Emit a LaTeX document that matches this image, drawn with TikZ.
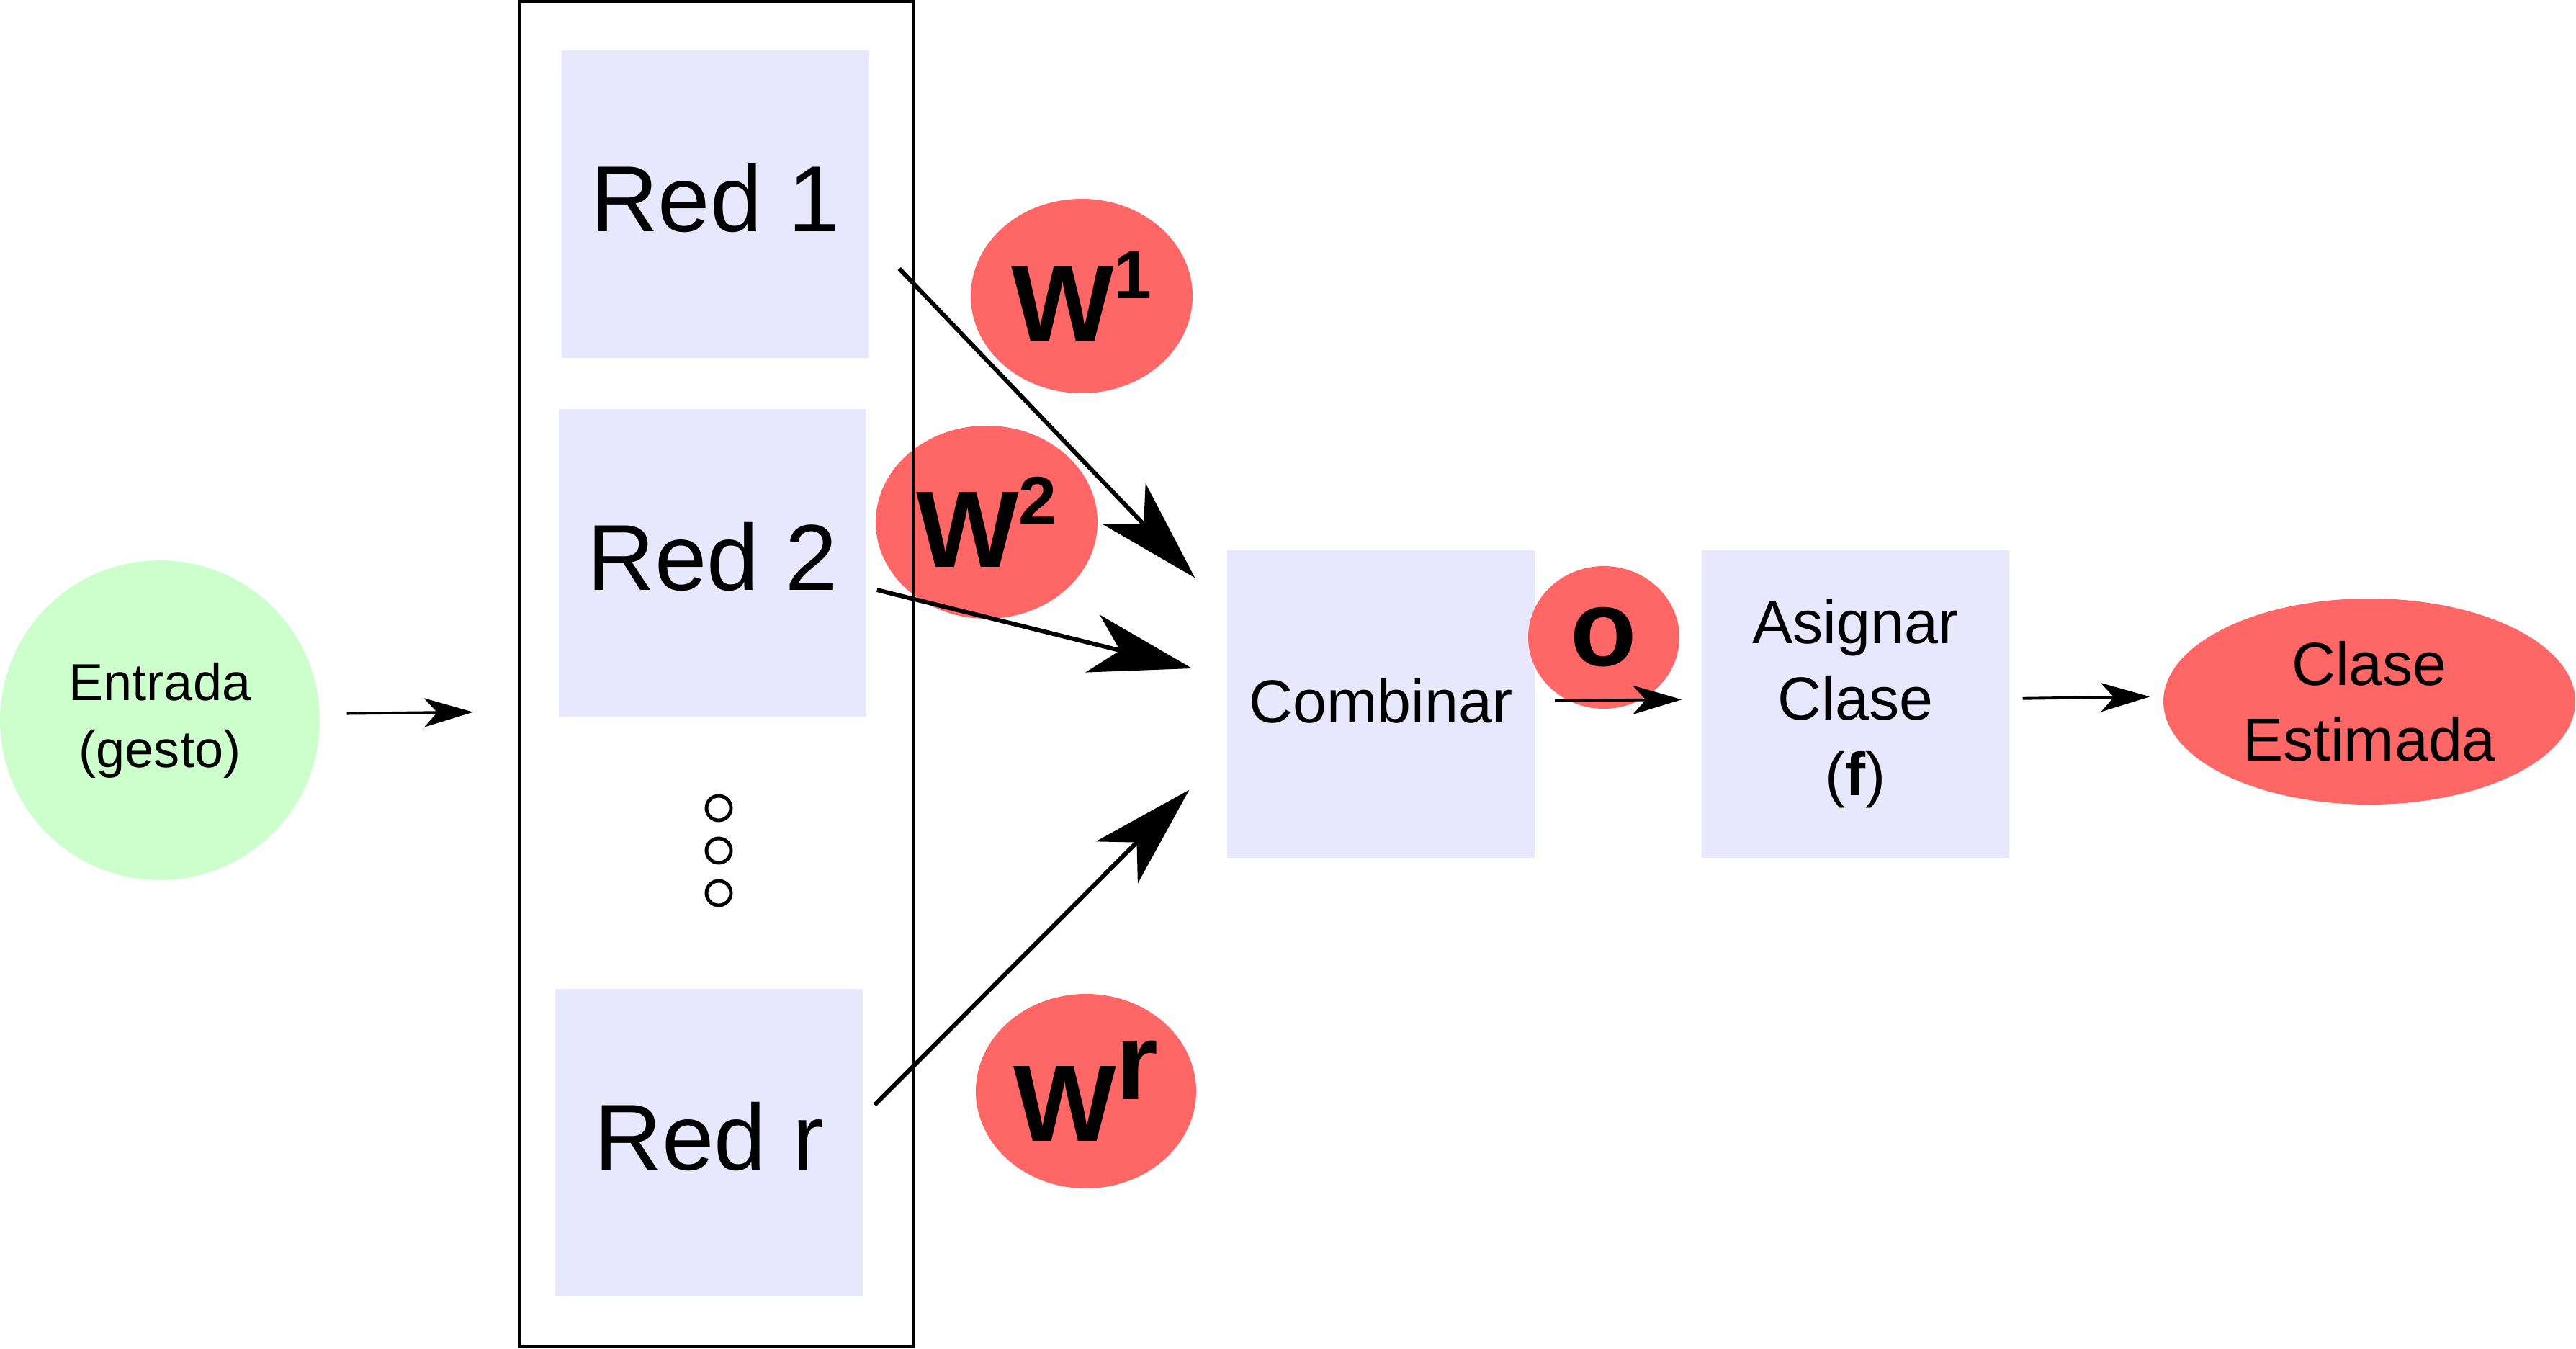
\documentclass[tikz,border=0pt]{standalone}
\usepackage{fontspec}
\setmainfont{Liberation Sans}
\usepackage{xcolor}
\usepackage{tikz}
\usetikzlibrary{arrows.meta,calc,shapes.geometric}
\definecolor{figin}{RGB}{204,255,204}
\definecolor{figblock}{RGB}{232,232,252}
\definecolor{figred}{RGB}{255,102,102}
\tikzset{
  blk/.style  ={fill=figblock, draw=none, minimum width=4.27cm, minimum height=4.27cm, inner sep=0pt, align=center},
  wt/.style   ={ellipse, fill=figred, inner sep=0pt, font=\fontsize{43}{43}\selectfont\bfseries},
  frm/.style  ={draw=black, line width=1.1pt},
  arr/.style  ={draw=black, line width=1.1pt, -{Stealth[length=0.68cm,width=0.40cm,inset=0.18cm]}},
  arrb/.style ={draw=black, line width=1.7pt, -{Stealth[length=1.42cm,width=0.82cm,inset=0.39cm]}},
  dotc/.style ={draw=black, line width=1.4pt},
  txtm/.style ={font=\fontsize{24}{30}\selectfont},
  txtl/.style ={font=\fontsize{37}{37}\selectfont, text depth=0.19cm},
}
\newcommand{\wsup}[1]{W\raisebox{0.59cm}{\fontsize{27}{27}\selectfont #1}}

\begin{document}
\begin{tikzpicture}
  \useasboundingbox (0,0) rectangle (35.77,18.72);
  \node[circle, fill=figin, minimum size=4.44cm, inner sep=0pt, align=center, font=\fontsize{20.5}{26.5}\selectfont] (entrada) at (2.22,8.72) {Entrada\\(gesto)};
  \node[blk, txtl] (red1) at (9.935,15.88) {Red 1};
  \node[blk, txtl] (red2) at (9.89,10.905) {Red 2};
  \node[blk, txtl] (redr) at (9.845,2.855) {Red r};
  \foreach \y in {7.50,6.91,6.32}
    \draw[dotc] (9.98,\y) circle (0.17);
  \node[blk, txtm, text depth=0.09cm] (comb) at (19.175,8.945) {Combinar};
  \node[blk, txtm] (asig) at (25.765,8.945) {Asignar\\Clase\\(\textbf{f})};
  \node[wt, minimum width=3.08cm, minimum height=2.70cm] (w1) at (15.02,14.61) {\wsup{1}};
  \node[wt, minimum width=3.08cm, minimum height=2.68cm] (w2) at (13.70,11.47) {\wsup{2}};
  \node[wt, minimum width=3.06cm, minimum height=2.70cm] (wr) at (15.08,3.57) {W\raisebox{0.58cm}{r}};
  \node[wt, minimum width=2.10cm, minimum height=1.98cm] (o) at (22.27,9.87) {o};
  \node[ellipse, fill=figred, minimum width=5.72cm, minimum height=2.86cm, inner sep=0pt, align=center, txtm] (clase) at (32.90,8.98) {Clase\\Estimada};
  \node[frm, minimum width=5.47cm, minimum height=18.68cm, inner sep=0pt] (pila) at (9.945,9.36) {};
  \coordinate (a1s) at ($(red1.east)+(0.41,-0.89)$);
  \coordinate (a1e) at ($(comb.north west)+(-0.44,-0.39)$);
  \coordinate (a2s) at ($(red2.east)+(0.145,-0.375)$);
  \coordinate (a2e) at ($(comb.west)+(-0.48,0.495)$);
  \coordinate (ars) at ($(redr.east)+(0.16,0.525)$);
  \coordinate (are) at ($(comb.south west)+(-0.52,0.95)$);
  \draw[arrb] (a1s) -- (a1e);
  \draw[arrb] (a2s) -- (a2e);
  \draw[arrb] (ars) -- (are);
  \draw[arr, shorten <=0.37cm, shorten >=0.62cm] ([yshift=0.9mm]entrada.east) -- ([yshift=-5.2mm]pila.west);
  \draw[arr, shorten <=0.275cm, shorten >=0.27cm] ([yshift=0.45mm]comb.east) -- ([yshift=0.65mm]asig.west);
  \draw[arr, shorten <=0.18cm, shorten >=0.18cm] ([yshift=0.75mm]asig.east) -- ([yshift=0.7mm]clase.west);
\end{tikzpicture}
\end{document}
